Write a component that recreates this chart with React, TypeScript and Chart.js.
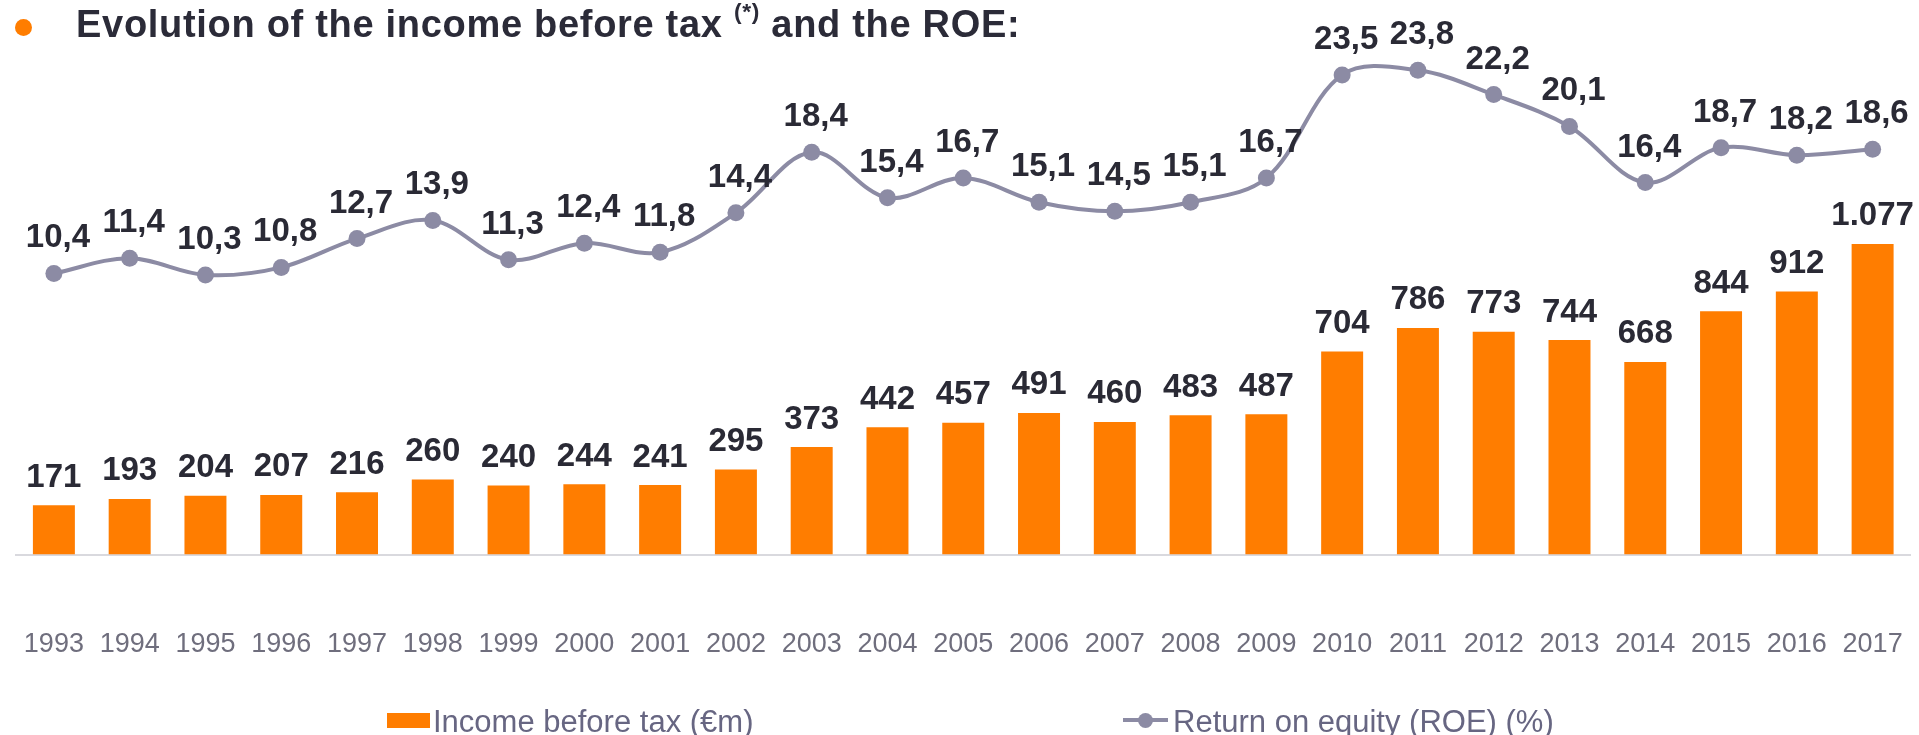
import React, { useEffect, useRef } from 'react';
import { Chart, registerables } from 'chart.js';

Chart.register(...registerables);

const years = ['1993', '1994', '1995', '1996', '1997', '1998', '1999', '2000', '2001', '2002', '2003', '2004', '2005', '2006', '2007', '2008', '2009', '2010', '2011', '2012', '2013', '2014', '2015', '2016', '2017'];
const incomeBeforeTax = [171, 193, 204, 207, 216, 260, 240, 244, 241, 295, 373, 442, 457, 491, 460, 483, 487, 704, 786, 773, 744, 668, 844, 912, 1077];
const roe = [10.4, 11.4, 10.3, 10.8, 12.7, 13.9, 11.3, 12.4, 11.8, 14.4, 18.4, 15.4, 16.7, 15.1, 14.5, 15.1, 16.7, 23.5, 23.8, 22.2, 20.1, 16.4, 18.7, 18.2, 18.6];

const incomeLabel = 'Income before tax (€m)';
const roeLabel = 'Return on equity (ROE) (%)';

const FONT = '"Liberation Sans", Arial, Helvetica, sans-serif';
const ORANGE = '#ff7d00';
const ROE_COLOR = '#8c8ba4';
const LABEL_COLOR = '#2a2a35';
const TICK_COLOR = '#6f6e7d';
const LEGEND_COLOR = '#676682';

function fmtIncome(v: number): string {
  return String(v).replace(/\B(?=(\d{3})+(?!\d))/g, '.');
}
function fmtRoe(v: number): string {
  return v.toFixed(1).replace('.', ',');
}

const valueLabels = {
  id: 'valueLabels',
  afterDatasetsDraw(chart: any) {
    const ctx = chart.ctx;
    ctx.save();
    ctx.font = `bold 33px ${FONT}`;
    ctx.fillStyle = LABEL_COLOR;
    ctx.textAlign = 'center';
    ctx.textBaseline = 'alphabetic';
    chart.data.datasets.forEach((ds: any, i: number) => {
      const meta = chart.getDatasetMeta(i);
      meta.data.forEach((el: any, j: number) => {
        const v = ds.data[j];
        if (ds.type === 'line') {
          ctx.fillText(fmtRoe(v), el.x + 4, el.y - 26);
        } else {
          ctx.fillText(fmtIncome(v), el.x, el.y - 18.5);
        }
      });
    });
    ctx.restore();
  },
};

export default function App() {
  const canvasRef = useRef<HTMLCanvasElement | null>(null);

  useEffect(() => {
    const canvas = canvasRef.current;
    if (!canvas) return;
    const chart = new Chart(canvas, {
      type: 'bar',
      data: {
        labels: years,
        datasets: [
          {
            type: 'line',
            label: roeLabel,
            data: roe,
            yAxisID: 'yRoe',
            borderColor: ROE_COLOR,
            backgroundColor: ROE_COLOR,
            borderWidth: 4,
            pointRadius: 8.5,
            pointBackgroundColor: ROE_COLOR,
            pointBorderWidth: 0,
            tension: 0.35,
            fill: false,
            order: 1,
          } as any,
          {
            type: 'bar',
            label: incomeLabel,
            data: incomeBeforeTax,
            yAxisID: 'yBar',
            backgroundColor: ORANGE,
            borderWidth: 0,
            barPercentage: 0.554,
            categoryPercentage: 1,
            order: 2,
          } as any,
        ],
      },
      options: {
        responsive: false,
        animation: false,
        layout: { padding: { left: 16, right: 7, top: 60, bottom: 1 } },
        plugins: {
          legend: { display: false },
          title: { display: false },
          tooltip: { enabled: false },
        },
        scales: {
          x: {
            type: 'category',
            offset: true,
            grid: { display: false, drawTicks: false },
            border: { display: true, color: '#d9d9de', width: 2 },
            ticks: {
              color: TICK_COLOR,
              font: { family: FONT, size: 27 },
              padding: 73.5,
              maxRotation: 0,
              autoSkip: false,
            },
            afterFit(scale: any) {
              scale.paddingLeft = 0;
              scale.paddingRight = 0;
            },
          },
          yBar: { type: 'linear', display: false, min: 0, max: 1715 },
          yRoe: { type: 'linear', display: false, min: -8.148, max: 24.483 },
        },
      } as any,
      plugins: [valueLabels],
    });
    return () => chart.destroy();
  }, []);

  return (
    <div style={{ position: 'absolute', left: 0, top: 0, width: 1919, height: 735, overflow: 'hidden', background: '#fff', fontFamily: FONT }}>
      <canvas ref={canvasRef} width={1919} height={735} style={{ position: 'absolute', left: 0, top: 0, width: 1919, height: 735 }} />
      <div style={{ position: 'absolute', left: 15, top: 18.5, width: 17, height: 17, borderRadius: '50%', background: ORANGE }} />
      <div style={{ position: 'absolute', left: 76, top: 4.5, fontSize: 38, lineHeight: '38px', letterSpacing: '0.7px', fontWeight: 'bold', color: '#2b2b38', whiteSpace: 'nowrap' }}>
        Evolution of the income before tax{' '}
        <span style={{ fontSize: '0.6em', position: 'relative', top: '-0.75em' }}>(*)</span>
        {' '}and the ROE:
      </div>
      <div style={{ position: 'absolute', left: 387, top: 712.5, width: 43, height: 15, background: ORANGE }} />
      <div style={{ position: 'absolute', left: 433, top: 705.5, fontSize: 31, lineHeight: '31px', color: LEGEND_COLOR, whiteSpace: 'nowrap' }}>{incomeLabel}</div>
      <div style={{ position: 'absolute', left: 1123, top: 718, width: 45, height: 4, background: ROE_COLOR }} />
      <div style={{ position: 'absolute', left: 1137.5, top: 712.5, width: 15, height: 15, borderRadius: '50%', background: ROE_COLOR }} />
      <div style={{ position: 'absolute', left: 1173, top: 705.5, fontSize: 31, lineHeight: '31px', color: LEGEND_COLOR, whiteSpace: 'nowrap' }}>{roeLabel}</div>
    </div>
  );
}
